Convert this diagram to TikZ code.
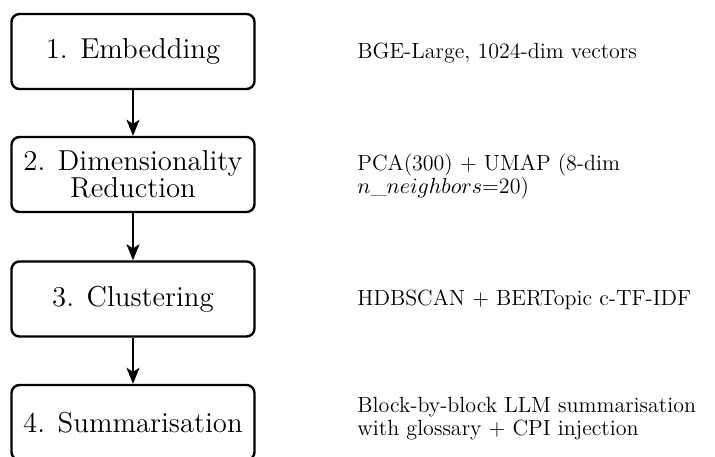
\documentclass[tikz,border=0pt]{standalone}
\usetikzlibrary{arrows.meta}
\begin{document}
\begin{tikzpicture}[x=0.5pt,y=-0.5pt,
  stage/.style={draw, line width=1.2pt, rounded corners=4pt, align=center,
    minimum width=121.5pt, minimum height=37.5pt, inner xsep=5.5pt, inner ysep=1pt,
    font=\fontsize{14.4}{13.2}\selectfont},
  note/.style={anchor=base west, inner sep=0pt, align=left,
    font=\fontsize{11}{11.75}\selectfont},
  note2/.style={note, anchor=north west},
  flow/.style={-{Stealth[length=8pt,width=6.5pt,inset=2pt]}, line width=1pt}]
\useasboundingbox (0,0) rectangle (715,456);
% pipeline stages
\node[stage] (s1) at (133,51.5) {1. Embedding};
\node[stage] (s2) at (133,174.5) {2. Dimensionality\\Reduction};
\node[stage] (s3) at (133,299) {3. Clustering};
\node[stage] (s4) at (133,422.5) {4. Summarisation};
\draw[flow] (s1) -- (s2);
\draw[flow] (s2) -- (s3);
\draw[flow] (s3) -- (s4);
% descriptions beside each stage
\node[note] (d1) at (357,58) {BGE-Large, 1024-dim vectors};
\node[note2] (d2) at (357,153.5) {PCA(300) + UMAP (8-dim\\$n\_neighbors$=20)};
\node[note] (d3) at (357,305) {HDBSCAN + BERTopic c-TF-IDF};
\node[note2] (d4) at (357,396.5) {Block-by-block LLM summarisation\\with glossary + CPI injection};
\end{tikzpicture}
\end{document}
